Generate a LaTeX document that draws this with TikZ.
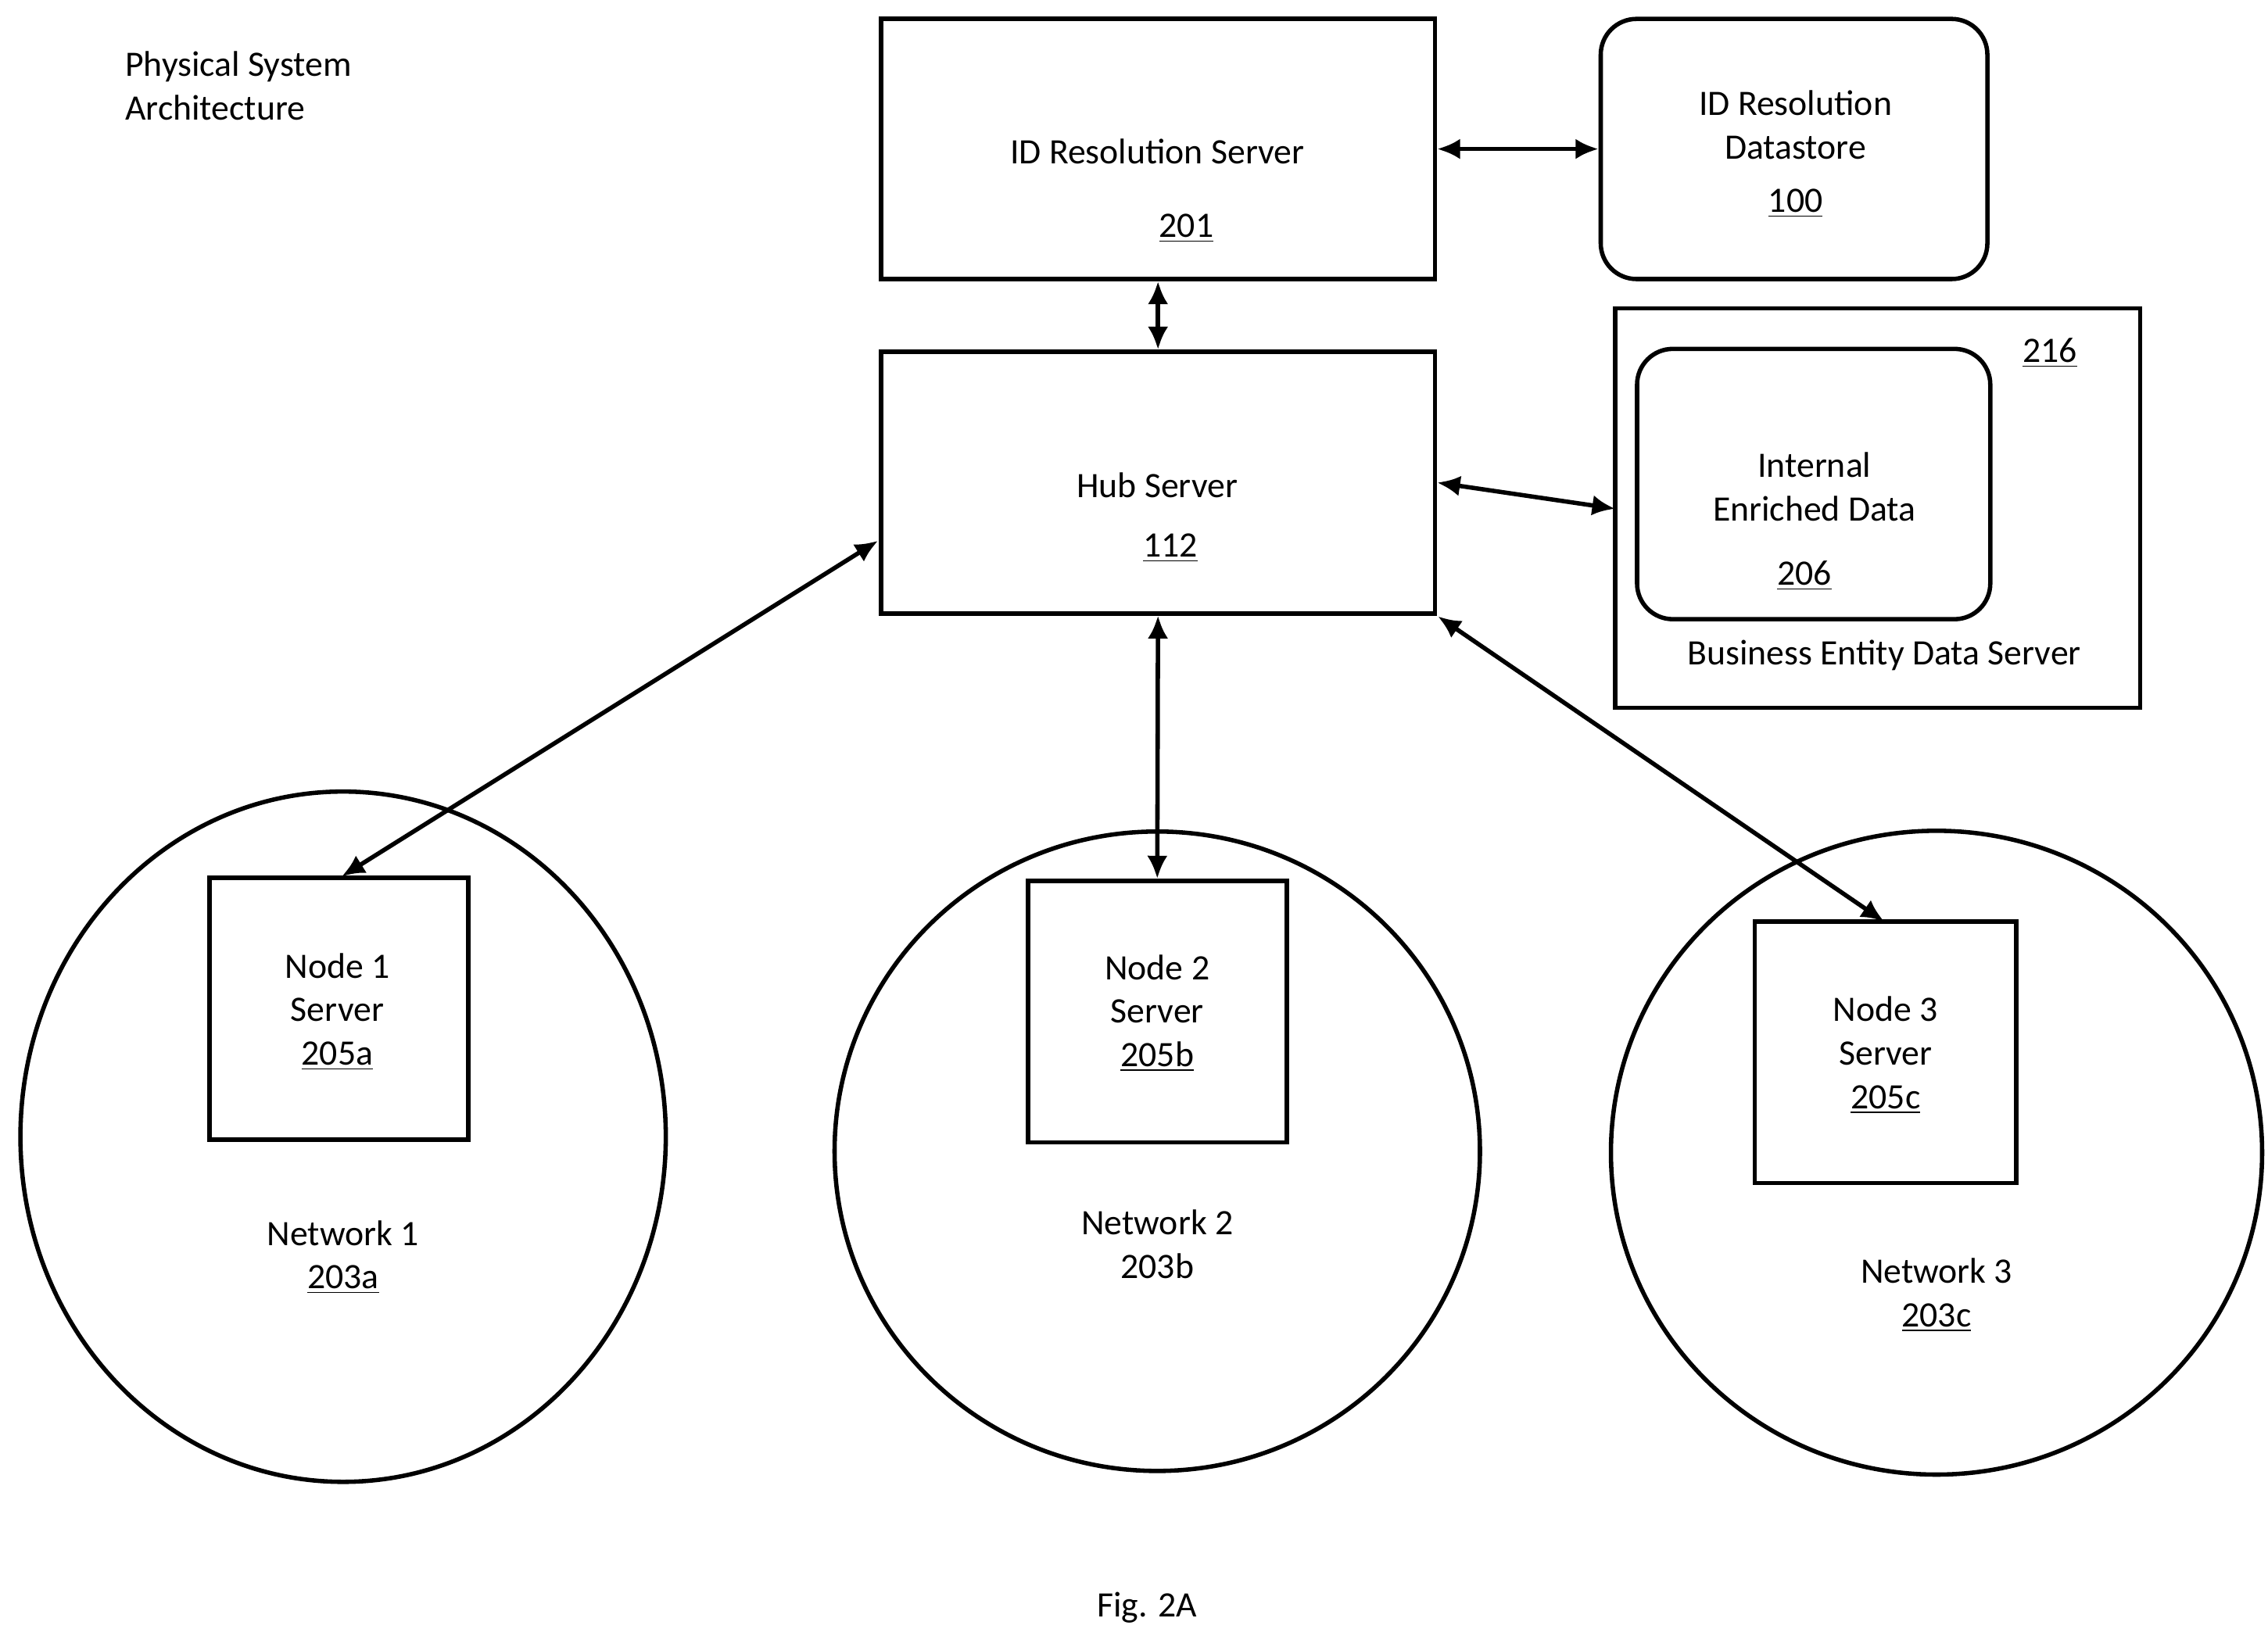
\documentclass[tikz,border=0pt]{standalone}
\usepackage{fontspec}
\setmainfont{Carlito}
\usetikzlibrary{arrows.meta,positioning,shapes.geometric}

\begin{document}
\begin{tikzpicture}[x=0.02cm, y=-0.02cm,
    every node/.style={font=\fontsize{14}{17}\selectfont},
    box/.style={rectangle, draw, line width=1.7pt, inner sep=0pt},
    store/.style={rectangle, draw, line width=1.7pt, rounded corners=14pt, inner sep=0pt},
    net/.style={ellipse, draw, line width=1.7pt, inner sep=0pt},
    link/.style={{Latex[length=9pt,width=8pt]}-{Latex[length=9pt,width=8pt]}, line width=1.7pt}
]
\useasboundingbox (0,0) rectangle (1560,1125);

% Title
\node[align=left, anchor=west] (title) at (80,59) {Physical System\\Architecture};

% Top servers
\node[box, minimum width=7.62cm, minimum height=3.58cm] (idsrv) at (796.5,102.5) {};
\node (idsrvt) at (796,104) {ID Resolution Server};
\node (idsrvn) at (816,157) {\underline{201}};

\node[store, minimum width=5.32cm, minimum height=3.58cm] (idds) at (1234,102.5) {};
\node[align=center] (iddst) at (1235,86) {ID Resolution\\Datastore};
\node (iddsn) at (1235,140) {\underline{100}};

% Hub
\node[box, minimum width=7.62cm, minimum height=3.6cm] (hub) at (796.5,332) {};
\node (hubt) at (796,334) {Hub Server};
\node (hubn) at (805,377) {\underline{112}};

% Business entity data server
\node[box, minimum width=7.22cm, minimum height=5.5cm] (bizsrv) at (1291.5,349.5) {};
\node (bizn) at (1410,243) {\underline{216}};
\node[store, minimum width=4.86cm, minimum height=3.72cm] (intdata) at (1247.5,333) {};
\node[align=center] (intdatat) at (1248,335) {Internal\\Enriched Data};
\node (intdatan) at (1241,396) {\underline{206}};
\node (bizt) at (1296,451) {Business Entity Data Server};

% Networks
\node[net, minimum width=8.88cm, minimum height=9.5cm] (net1) at (236,782) {};
\node[net, minimum width=8.88cm, minimum height=8.8cm] (net2) at (796,792) {};
\node[net, minimum width=8.96cm, minimum height=8.86cm] (net3) at (1332,793) {};

\node[box, minimum width=3.56cm, minimum height=3.6cm] (node1) at (233,694) {};
\node[align=center] (node1t) at (232,696) {Node 1\\Server\\\underline{205a}};
\node[align=center] (net1t) at (236,865) {Network 1\\\underline{203a}};

\node[box, minimum width=3.56cm, minimum height=3.6cm] (node2) at (796,696) {};
\node[align=center] (node2t) at (796,697) {Node 2\\Server\\\underline{205b}};
\node[align=center] (net2t) at (796,856) {Network 2\\203b};

\node[box, minimum width=3.6cm, minimum height=3.6cm] (node3) at (1297,724) {};
\node[align=center] (node3t) at (1297,726) {Node 3\\Server\\\underline{205c}};
\node[align=center] (net3t) at (1332,891) {Network 3\\\underline{203c}};

\node (fig) at (789,1106) {Fig. 2A};

% Connectors
\coordinate (hubw) at (604,372);
\coordinate (hubse) at (989,424);
\coordinate (node1n) at (235,603);
\coordinate (node3n) at (1296,634);
\coordinate (bizw) at (1111,350);
\draw[link] (idsrv.east) -- (idds.west);
\draw[link] (idsrv.south) -- (hub.north);
\draw[link] (hub.east) -- (bizw);
\draw[link] (hubw) -- (node1n);
\draw[link] (hub.south) -- (node2.north);
\draw[link] (hubse) -- (node3n);

\end{tikzpicture}
\end{document}
